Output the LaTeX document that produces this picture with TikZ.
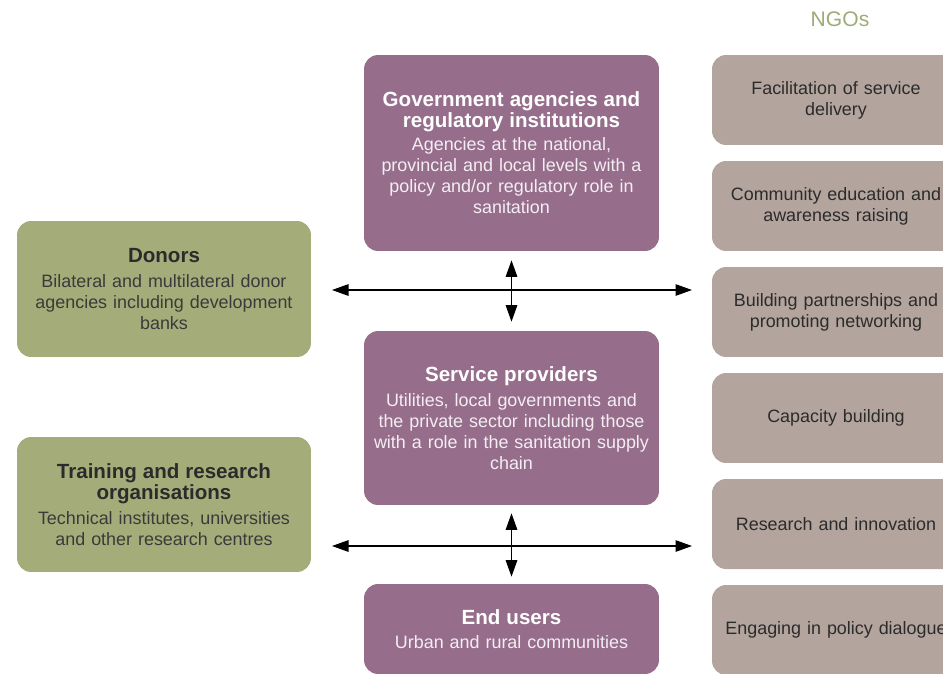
\documentclass[tikz,border=0pt]{standalone}
\usepackage{fontspec}
\setmainfont{Liberation Sans}
\usetikzlibrary{arrows.meta}
\definecolor{govpurple}{HTML}{966E8C}
\definecolor{donorgreen}{HTML}{A4AD7A}
\definecolor{ngotaupe}{HTML}{B3A59E}
\definecolor{ngogreen}{HTML}{9DAB77}
\definecolor{darktext}{HTML}{2B2B2B}
\definecolor{softtext}{HTML}{3A3A3A}
\definecolor{palewhite}{HTML}{F4EEF3}

\begin{document}
\begin{tikzpicture}[
		x=0.02cm, y=-0.02cm,
		every node/.style={rounded corners=0.28cm, align=center, inner sep=0pt, font=\fontsize{10.2}{12}\selectfont},
		actor/.style={fill=govpurple, text=palewhite, text width=5.9cm},
		funder/.style={fill=donorgreen, text=softtext, text width=5.88cm},
		ngo/.style={fill=ngotaupe, text=darktext, text width=4.96cm, minimum height=1.8cm},
		link/.style={line width=0.75pt, {Triangle[length=3.3mm, width=2.3mm]}-{Triangle[length=3.3mm, width=2.3mm]}}
	]
  \useasboundingbox (0, 0) rectangle (943, 673);
  \clip (0, 0) rectangle (943, 673);
  \node (gov) [actor, minimum height=3.92cm] at (511.5, 153) {{\fontsize{11.7}{12}\selectfont\bfseries\color{white}Government agencies and\\ regulatory institutions}\\[1pt] Agencies at the national,\\ provincial and local levels with a\\ policy and/or regulatory role in\\ sanitation};
  \node (prov) [actor, minimum height=3.48cm] at (511.5, 418) {{\fontsize{11.7}{12}\selectfont\bfseries\color{white}Service providers}\\[2pt] Utilities, local governments and\\ the private sector including those\\ with a role in the sanitation supply\\ chain};
  \node (users) [actor, minimum height=1.8cm] at (511.5, 629) {{\fontsize{11.7}{12}\selectfont\bfseries\color{white}End users}\\[2pt] Urban and rural communities};
  \node (donors) [funder, minimum height=2.72cm] at (164, 289) {{\fontsize{11.7}{12}\selectfont\bfseries\color{darktext}Donors}\\[2pt] Bilateral and multilateral donor\\ agencies including development\\ banks};
  \node (train) [funder, minimum height=2.7cm] at (164, 504.5) {{\fontsize{11.7}{12}\selectfont\bfseries\color{darktext}Training and research\\ organisations}\\[2pt] Technical institutes, universities\\ and other research centres};
  \node (ngo_title) [rounded corners=0, text=ngogreen, font=\fontsize{12}{14}\selectfont] at (840, 19) {NGOs};
  \node (ngo_1) [ngo] at (836, 100) {Facilitation of service\\ delivery};
  \node (ngo_2) [ngo] at (836, 206) {Community education and\\ awareness raising};
  \node (ngo_3) [ngo] at (836, 312) {Building partnerships and\\ promoting networking};
  \node (ngo_4) [ngo] at (836, 418) {Capacity building};
  \node (ngo_5) [ngo] at (836, 524) {Research and innovation};
  \node (ngo_6) [ngo] at (836, 630) {Engaging in policy dialogue};
  \coordinate (h_1l) at (332, 290);
  \coordinate (h_1r) at (692, 290);
  \coordinate (h_2l) at (332, 546);
  \coordinate (h_2r) at (692, 546);
  \draw [link] (h_1l) -- (h_1r);
  \draw [link] (h_2l) -- (h_2r);
  \draw [link, shorten <=0.18cm, shorten >=0.18cm] (gov.south) -- (prov.north);
  \draw [link, shorten <=0.16cm, shorten >=0.14cm] (prov.south) -- (users.north);
\end{tikzpicture}
\end{document}
